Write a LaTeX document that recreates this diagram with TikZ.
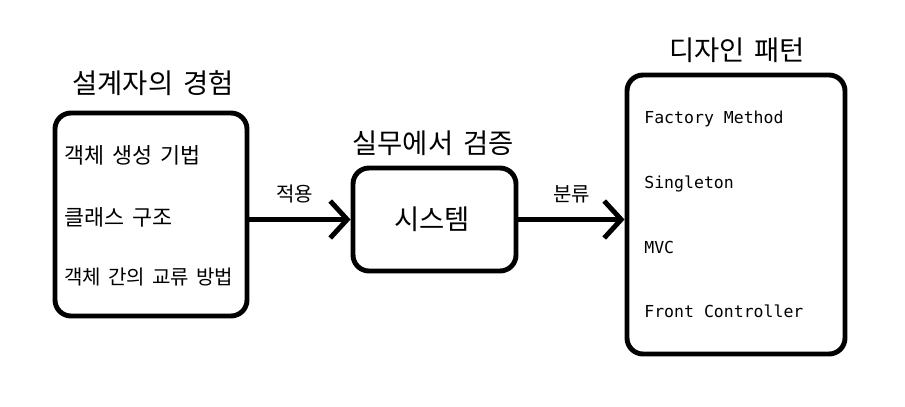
\documentclass[tikz,border=0pt]{standalone}
\usepackage{fontspec}
\setmainfont{Noto Sans CJK KR}[WordSpace=1.6]
\newfontfamily\monofont{DejaVu Sans Mono}
\usetikzlibrary{arrows.meta}

\begin{document}
\begin{tikzpicture}[x=0.02cm,y=-0.02cm]
\tikzstyle{every node}+=[inner sep=0pt]
\tikzstyle{block}=[draw=black, line width=2.8pt, rounded corners=0.32cm]
\tikzstyle{flow}=[line width=2.8pt, -{Straight Barb[length=0.34cm, width=0.74cm]}]
\useasboundingbox (0,0) rectangle (905,406);
% boxes
\node [block, minimum width=0.02cm*192, minimum height=0.02cm*203] (exp) at (151,214.5) {};
\node [block, minimum width=0.02cm*163, minimum height=0.02cm*103] (sys) at (434.5,219.5) {};
\node [block, minimum width=0.02cm*218, minimum height=0.02cm*279] (pat) at (736,214.5) {};
% titles
\node [font=\fontsize{15.6}{18}\selectfont] (exptitle) at (153,83) {설계자의 경험};
\node [font=\fontsize{15.6}{18}\selectfont] (systitle) at (433,143) {실무에서 검증};
\node [font=\fontsize{15.6}{18}\selectfont] (pattitle) at (737,50) {디자인 패턴};
\node [font=\fontsize{15.6}{18}\selectfont] (systext) at (432,219) {시스템};
% left items
\node [anchor=west, font=\fontsize{12.4}{14}\selectfont] (e1) at (64,155) {객체 생성 기법};
\node [anchor=west, font=\fontsize{12.4}{14}\selectfont] (e2) at (64,217) {클래스 구조};
\node [anchor=west, font=\fontsize{11.4}{13}\selectfont] (e3) at (64,277) {객체 간의 교류 방법};
% right items
\node [anchor=west, font=\monofont\fontsize{9.4}{11}\selectfont] (p1) at (644,119) {Factory Method};
\node [anchor=west, font=\monofont\fontsize{9.4}{11}\selectfont] (p2) at (644,184) {Singleton};
\node [anchor=west, font=\monofont\fontsize{9.4}{11}\selectfont] (p3) at (644,247) {MVC};
\node [anchor=west, font=\monofont\fontsize{9.4}{11}\selectfont] (p4) at (644,311) {Front Controller};
% arrows
\draw [flow] (exp.east |- sys.west) -- (sys.west) node [pos=0.45, above=0.28cm, font=\fontsize{11.4}{13}\selectfont] {적용};
\draw [flow] (sys.east) -- (sys.east -| pat.west) node [pos=0.5, above=0.28cm, font=\fontsize{11.4}{13}\selectfont] {분류};
\end{tikzpicture}
\end{document}
